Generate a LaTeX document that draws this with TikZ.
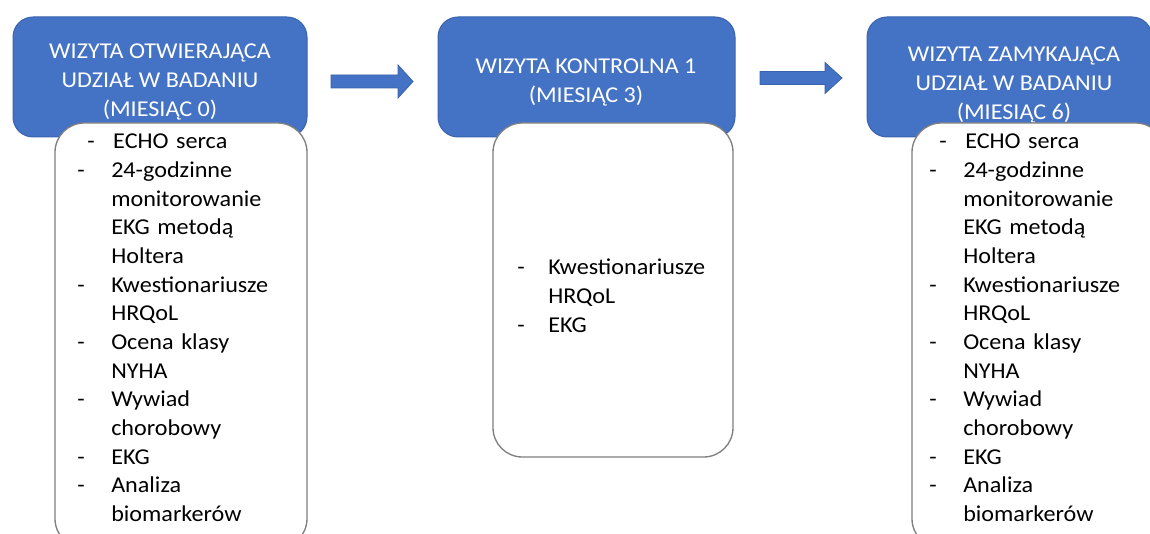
\documentclass[tikz,border=0pt]{standalone}
\usepackage{fontspec}
\setmainfont[FakeStretch=1.065]{Carlito}
\usetikzlibrary{calc}
\definecolor{hdrblue}{HTML}{4472C4}
\definecolor{hdredge}{HTML}{3A63AE}
\definecolor{boxedge}{HTML}{7F7F7F}
\tikzset{
  header/.style={fill=hdrblue, draw=hdredge, line width=0.75pt, rounded corners=15pt},
  hdrtext/.style={text=white, font=\fontsize{17}{22.1}\selectfont, align=center, anchor=base, inner sep=0pt},
  body/.style={fill=white, draw=boxedge, line width=1pt, rounded corners=22pt},
  listtext/.style={text=black, font=\fontsize{17}{21.5}\selectfont, anchor=base west, inner sep=0pt},
  blockarrow/.style={fill=hdrblue, draw=hdredge, line width=0.6pt},
}
\newlength{\dashcol}
\setlength{\dashcol}{25.5pt}
\newcommand{\itm}[1]{\makebox[\dashcol][l]{-}#1\\}
\newcommand{\cnt}[1]{\makebox[\dashcol][l]{}#1\\}
\newcommand{\firstitm}[1]{\hspace*{7.5pt}\makebox[19.5pt][l]{-}#1\\}
\begin{document}
\begin{tikzpicture}[x=0.75pt,y=-0.75pt]
\useasboundingbox (0,0) rectangle (1150,534);
\clip (0,0) rectangle (1150,534);
\fill[white] (0,0) rectangle (1150,534);
% header boxes
\draw[header] (13,17) rectangle (307,137);
\draw[header] (438,17) rectangle (735,137);
\draw[header] (867,17) rectangle (1152,137);
\node[hdrtext] (h1) at (160,117) {WIZYTA OTWIERAJĄCA\\UDZIAŁ W BADANIU\\(MIESIĄC 0)};
\node[hdrtext] (h2) at (586,103) {WIZYTA KONTROLNA 1\\(MIESIĄC 3)};
\node[hdrtext] (h3) at (1014,120) {WIZYTA ZAMYKAJĄCA\\UDZIAŁ W BADANIU\\(MIESIĄC 6)};
% body boxes
\draw[body] (55,123) rectangle (307,548);
\draw[body] (493,123) rectangle (733,457);
\draw[body] (912,123) rectangle (1165,548);
% lists
\node[listtext, text width=230pt] (l1) at (77,149) {\parindent=0pt%
\firstitm{ECHO serca}%
\itm{24-godzinne}\cnt{monitorowanie}\cnt{EKG metodą}\cnt{Holtera}%
\itm{Kwestionariusze}\cnt{HRQoL}\itm{Ocena klasy}\cnt{NYHA}%
\itm{Wywiad}\cnt{chorobowy}\itm{EKG}\itm{Analiza}\cnt{biomarkerów}};
\node[listtext, text width=200pt] (l2) at (517,275) {\parindent=0pt\setlength{\dashcol}{23.25pt}%
\itm{Kwestionariusze}\cnt{HRQoL}\itm{EKG}};
\node[listtext, text width=230pt] (l3) at (929,149) {\parindent=0pt%
\firstitm{ECHO serca}%
\itm{24-godzinne}\cnt{monitorowanie}\cnt{EKG metodą}\cnt{Holtera}%
\itm{Kwestionariusze}\cnt{HRQoL}\itm{Ocena klasy}\cnt{NYHA}%
\itm{Wywiad}\cnt{chorobowy}\itm{EKG}\itm{Analiza}\cnt{biomarkerów}};
% arrows
\coordinate (a1s) at (331,81.5);
\coordinate (a1t) at (413,81.5);
\draw[blockarrow] ($(a1s)+(0,-6.5)$) -- ($(a1t)+(-15,-6.5)$) -- ($(a1t)+(-15,-16.5)$) -- (a1t)
  -- ($(a1t)+(-15,16.5)$) -- ($(a1t)+(-15,6.5)$) -- ($(a1s)+(0,6.5)$) -- cycle;
\coordinate (a2s) at (760,78);
\coordinate (a2t) at (842,78);
\draw[blockarrow] ($(a2s)+(0,-6.5)$) -- ($(a2t)+(-17,-6.5)$) -- ($(a2t)+(-17,-15.5)$) -- (a2t)
  -- ($(a2t)+(-17,15.5)$) -- ($(a2t)+(-17,6.5)$) -- ($(a2s)+(0,6.5)$) -- cycle;
\end{tikzpicture}
\end{document}
